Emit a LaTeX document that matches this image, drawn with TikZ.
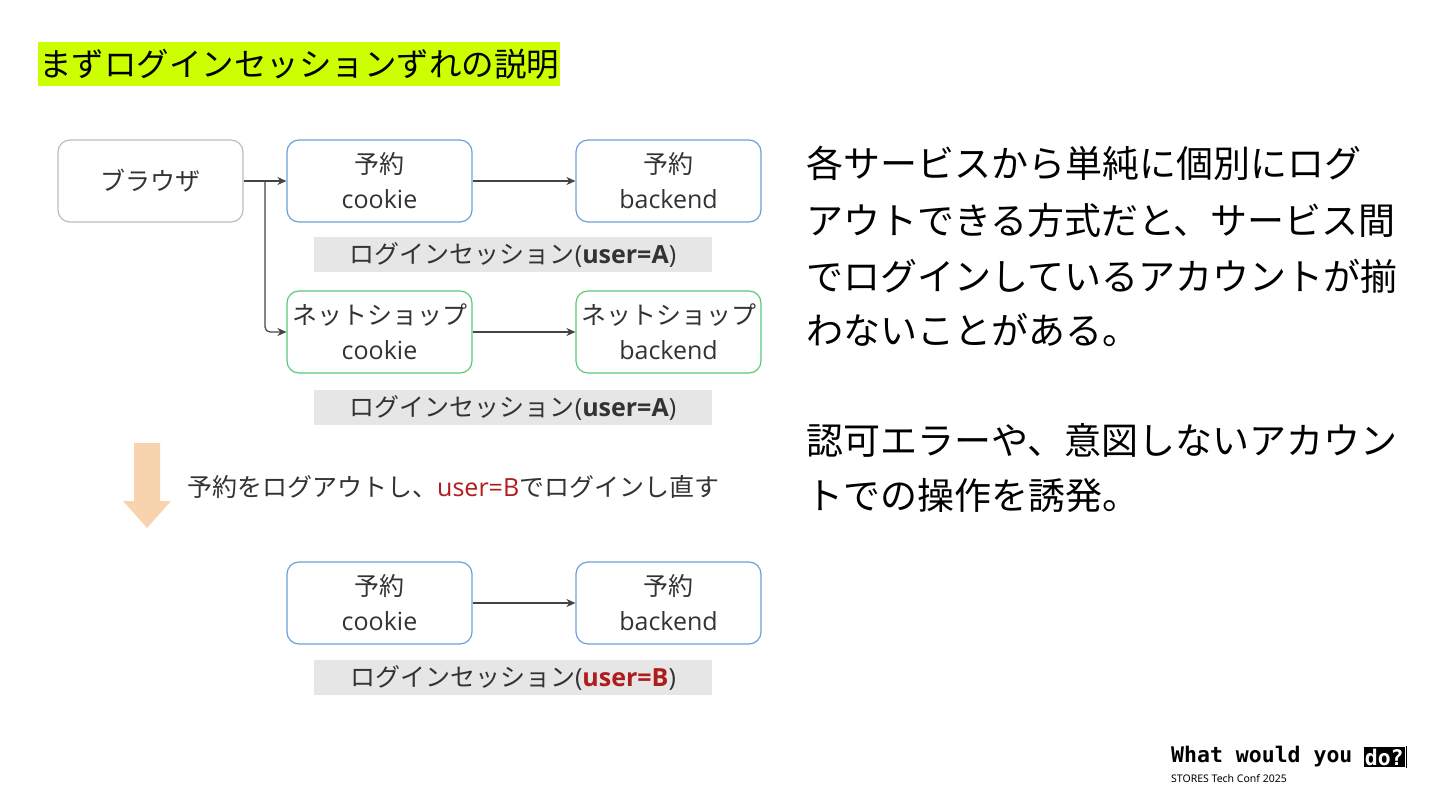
\documentclass[tikz,border=0pt]{standalone}
\usepackage{fontspec}
\setmainfont{Noto Sans CJK JP}
\newfontfamily\lat{Open Sans}
\newfontfamily\codefont{DejaVu Sans Mono}
\newfontfamily\footfont{Noto Sans}
\usetikzlibrary{arrows.meta}
\definecolor{boxblue}{HTML}{6E9FDA}
\definecolor{boxgreen}{HTML}{5CC87A}
\definecolor{boxgray}{HTML}{BDBDBD}
\definecolor{labelgray}{HTML}{E6E6E6}
\definecolor{txt}{HTML}{333333}
\definecolor{userred}{HTML}{B01C1C}
\definecolor{peach}{HTML}{F8D4AE}
\definecolor{lime}{HTML}{CCFF00}
\definecolor{arrowgray}{HTML}{444444}
\tikzset{
  sbox/.style={draw, line width=1.2pt, rounded corners=12pt, minimum width=185pt, minimum height=82pt,
    align=center, text=txt, font=\fontsize{25}{35}\selectfont, inner sep=0pt},
  bluebox/.style={sbox, draw=boxblue},
  greenbox/.style={sbox, draw=boxgreen},
  graybox/.style={sbox, draw=boxgray},
  sesslabel/.style={fill=labelgray, minimum width=398pt, minimum height=35pt, inner sep=0pt,
    text=txt, font=\fontsize{25}{28}\selectfont},
  arr/.style={draw=arrowgray, line width=1.2pt, -{Stealth[length=9pt,width=8pt]}},
  bigtext/.style={anchor=west, inner sep=0pt, text=black, font=\fontsize{37}{40}\selectfont}
}
\begin{document}
\begin{tikzpicture}[x=1pt,y=-1pt]
\useasboundingbox (0,0) rectangle (1440,810);
\fill[white] (0,0) rectangle (1440,810);
% title
\node[fill=lime, anchor=west, inner xsep=1pt, inner ysep=0pt, minimum height=44pt, text=black,
  font=\fontsize{32.5}{36}\selectfont] (title) at (38,64) {まずログインセッションずれの説明};
% row 1
\node[graybox] (br) at (150.5,181) {ブラウザ};
\node[bluebox] (rc) at (379.5,181) {予約\\{\lat cookie}};
\node[bluebox] (rb) at (668.5,181) {予約\\{\lat backend}};
\node[sesslabel] (s1) at (513,254.5) {ログインセッション{\lat(\textbf{user=A})}};
% row 2
\node[greenbox] (nc) at (379.5,332) {ネットショップ\\{\lat cookie}};
\node[greenbox] (nb) at (668.5,332) {ネットショップ\\{\lat backend}};
\node[sesslabel] (s2) at (513,407.5) {ログインセッション{\lat(\textbf{user=A})}};
% connectors
\coordinate (split) at (265,181);
\draw[arr] (br.east) -- (rc.west);
\draw[arr, rounded corners=5pt] (split) |- (nc.west);
\draw[arr] (rc.east) -- (rb.west);
\draw[arr] (nc.east) -- (nb.west);
% big arrow
\fill[peach] (134,443) -- (160,443) -- (160,501) -- (171,501) -- (147,528) -- (123,501) -- (134,501) -- cycle;
\node[anchor=west, inner sep=0pt, text=txt, font=\fontsize{25}{28}\selectfont] (step) at (187,487)
  {予約をログアウトし、{\lat\color{userred}user=B}でログインし直す};
% row 3
\node[bluebox] (rc2) at (379.5,603) {予約\\{\lat cookie}};
\node[bluebox] (rb2) at (668.5,603) {予約\\{\lat backend}};
\node[sesslabel] (s3) at (513,677.5) {ログインセッション{\lat(\textbf{\color{userred}user=B})}};
\draw[arr] (rc2.east) -- (rb2.west);
% right text
\node[bigtext] (t1) at (806,163) {各サービスから単純に個別にログ};
\node[bigtext] (t2) at (806,220) {アウトできる方式だと、サービス間};
\node[bigtext] (t3) at (806,276) {でログインしているアカウントが揃};
\node[bigtext] (t4) at (806,330) {わないことがある。};
\node[bigtext] (t5) at (806,440) {認可エラーや、意図しないアカウン};
\node[bigtext] (t6) at (806,496) {トでの操作を誘発。};
% footer
\node[anchor=west, inner sep=0pt, font=\codefont\bfseries\fontsize{21.5}{24}\selectfont] (w1) at (1171,757) {What would you};
\node[anchor=west, fill=black, text=white, inner xsep=1pt, inner ysep=2pt, font=\codefont\bfseries\fontsize{21.5}{24}\selectfont] (w2) at ([xshift=11pt]w1.east) {do?};
\draw[line width=1pt] ([xshift=1.5pt]w2.north east) -- ([xshift=1.5pt]w2.south east);
\node[anchor=west, inner sep=0pt, font=\footfont\fontsize{10.5}{12}\selectfont] (w3) at (1171,779) {STORES Tech Conf 2025};
\end{tikzpicture}
\end{document}
